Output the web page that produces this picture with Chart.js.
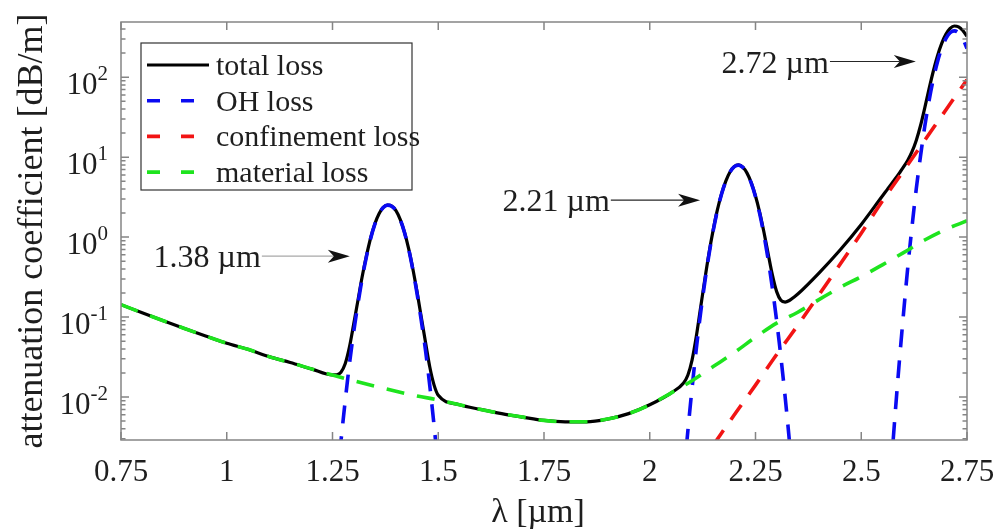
<!DOCTYPE html>
<html>
<head>
<meta charset="utf-8">
<script src="https://cdn.jsdelivr.net/npm/chart.js@4.4.1/dist/chart.umd.min.js"></script>
<style>
  html, body { margin: 0; padding: 0; background: #fff; }
  #lossChart { display: block; }
</style>
</head>
<body>
<canvas id="lossChart" width="998" height="531"></canvas>
<script>
// wavelength [um] and attenuation [dB/m]
const totalLambda = [
  0.75, 0.80, 0.85, 0.90, 0.95, 1.00, 1.05, 1.10, 1.15, 1.20, 1.25,
  1.26, 1.27, 1.28, 1.29, 1.30, 1.31, 1.32, 1.33, 1.34, 1.35, 1.36, 1.37, 1.38,
  1.39, 1.40, 1.41, 1.42, 1.43, 1.44, 1.45, 1.46, 1.47, 1.48, 1.49, 1.50,
  1.55, 1.60, 1.65, 1.70, 1.75, 1.80, 1.85, 1.90, 1.95, 2.00, 2.05,
  2.08, 2.09, 2.10, 2.11, 2.12, 2.13, 2.14, 2.15, 2.16, 2.17, 2.18, 2.19, 2.20,
  2.21, 2.22, 2.23, 2.24, 2.25, 2.26, 2.27, 2.28, 2.29, 2.30, 2.31, 2.32, 2.33,
  2.34, 2.35, 2.40, 2.45, 2.50, 2.55,
  2.56, 2.57, 2.58, 2.59, 2.60, 2.61, 2.62, 2.63, 2.64, 2.65, 2.66, 2.67, 2.68,
  2.69, 2.70, 2.71, 2.72, 2.73, 2.74, 2.75
];
const totalLoss = [
  0.143, 0.113, 0.090, 0.072, 0.058, 0.047, 0.0395, 0.032, 0.027, 0.0225, 0.0189,
  0.0190, 0.0204, 0.026, 0.042, 0.081, 0.160, 0.317, 0.576, 0.968, 1.46, 1.96, 2.35, 2.52,
  2.44, 2.15, 1.67, 1.16, 0.718, 0.399, 0.205, 0.099, 0.048, 0.0237, 0.0142, 0.0105,
  0.0080, 0.0070, 0.0062, 0.0056, 0.0051, 0.0049, 0.0049, 0.0053, 0.0062, 0.0080, 0.0112,
  0.0150, 0.0187, 0.029, 0.057, 0.129, 0.29, 0.627, 1.23, 2.20, 3.52, 5.05, 6.57, 7.64,
  7.99, 7.50, 6.31, 4.78, 3.27, 2.03, 1.15, 0.615, 0.334, 0.208, 0.162, 0.154, 0.161,
  0.176, 0.194, 0.355, 0.69, 1.44, 3.27,
  3.84, 4.51, 5.32, 6.31, 7.53, 9.17, 11.7, 16.2, 24.7, 41.1, 70.2, 117, 183,
  263, 343, 407, 437, 426, 383, 324
];

// OH absorption peaks, null breaks the line between them
const ohLambda = [
  1.26, 1.27, 1.28, 1.29, 1.30, 1.31, 1.32, 1.33, 1.34, 1.35, 1.36, 1.37, 1.38,
  1.39, 1.40, 1.41, 1.42, 1.43, 1.44, 1.45, 1.46, 1.47, 1.48, 1.49, 1.50,
  1.80,
  2.08, 2.09, 2.10, 2.11, 2.12, 2.13, 2.14, 2.15, 2.16, 2.17, 2.18, 2.19, 2.20,
  2.21, 2.22, 2.23, 2.24, 2.25, 2.26, 2.27, 2.28, 2.29, 2.30, 2.31, 2.32, 2.33, 2.34,
  2.45,
  2.56, 2.57, 2.58, 2.59, 2.60, 2.61, 2.62, 2.63, 2.64, 2.65, 2.66, 2.67, 2.68,
  2.69, 2.70, 2.71, 2.72, 2.73, 2.74, 2.75
];
const ohLoss = [
  0.00079, 0.0028, 0.0089, 0.0257, 0.0646, 0.1445, 0.302, 0.562, 0.955, 1.445, 1.95, 2.34, 2.51,
  2.43, 2.14, 1.66, 1.15, 0.708, 0.389, 0.195, 0.089, 0.038, 0.0138, 0.00447, 0.00126,
  null,
  0.00098, 0.00372, 0.0129, 0.0398, 0.110, 0.269, 0.603, 1.20, 2.17, 3.49, 5.01, 6.53, 7.60,
  7.94, 7.45, 6.25, 4.72, 3.20, 1.95, 1.06, 0.519, 0.228, 0.090, 0.0318, 0.0101, 0.00288, 0.00074,
  null,
  0.0002, 0.00117, 0.006, 0.0275, 0.112, 0.417, 1.35, 3.98, 10.2, 24.0, 49.9, 92.8, 154,
  229, 303, 359, 380, 359, 303, 229
];

const confinementLambda = [2.15, 2.20, 2.25, 2.30, 2.35, 2.40, 2.45, 2.50, 2.55, 2.60, 2.65, 2.70, 2.75];
const confinementLoss = [0.0025, 0.0060, 0.0141, 0.034, 0.079, 0.19, 0.457, 1.12, 2.82, 6.76, 16.2, 38.9, 93];

const materialLambda = [
  0.75, 0.80, 0.85, 0.90, 0.95, 1.00, 1.05, 1.10, 1.15, 1.20, 1.25, 1.30, 1.35, 1.40,
  1.45, 1.50, 1.55, 1.60, 1.65, 1.70, 1.75, 1.80, 1.85, 1.90, 1.95, 2.00, 2.05, 2.10,
  2.15, 2.20, 2.25, 2.30, 2.35, 2.40, 2.45, 2.50, 2.55, 2.60, 2.65, 2.70, 2.75
];
const materialLoss = [
  0.143, 0.113, 0.090, 0.072, 0.058, 0.047, 0.0395, 0.032, 0.027, 0.0225, 0.0188, 0.0160, 0.0137, 0.0118,
  0.0103, 0.0092, 0.0080, 0.0070, 0.0062, 0.0056, 0.0051, 0.0049, 0.0049, 0.0053, 0.0062, 0.0080, 0.0112, 0.0160,
  0.024, 0.036, 0.056, 0.084, 0.115, 0.165, 0.235, 0.32, 0.45, 0.64, 0.92, 1.25, 1.6
];

const seriesNames = ['total loss', 'OH loss', 'confinement loss', 'material loss'];

const xTickValues = [0.75, 1, 1.25, 1.5, 1.75, 2, 2.25, 2.5, 2.75];
const xTickLabels = ['0.75', '1', '1.25', '1.5', '1.75', '2', '2.25', '2.5', '2.75'];
const yTickValues = [0.01, 0.1, 1, 10, 100];
const yTickExponents = ['-2', '-1', '0', '1', '2'];

// peak annotations: label, arrow tail and arrow tip in data units
const peakLabels = ['1.38 µm', '2.21 µm', '2.72 µm'];
const peakArrowFrom = [[1.083, 0.578], [1.908, 2.9], [2.426, 157]];
const peakArrowTo = [[1.291, 0.578], [2.119, 2.9], [2.629, 157]];

const SERIF = '"Liberation Serif", "Times New Roman", serif';
const DASH = [18, 13];

const toPoints = (xs, ys) => xs.map((x, i) => ({ x, y: ys[i] }));

// box, inward ticks, labels, legend and arrows, all placed through the chart's scales
const axesDecor = {
  id: 'axesDecor',
  afterDatasetsDraw(chart) {
    const { ctx, chartArea: a, scales: { x, y } } = chart;
    ctx.save();

    ctx.strokeStyle = '#858585';
    ctx.lineWidth = 1.5;
    ctx.strokeRect(a.left, a.top, a.right - a.left, a.bottom - a.top);

    ctx.beginPath();
    x.ticks.forEach(t => {
      const px = x.getPixelForValue(t.value);
      ctx.moveTo(px, a.bottom); ctx.lineTo(px, a.bottom - 8);
      ctx.moveTo(px, a.top); ctx.lineTo(px, a.top + 8);
    });
    y.ticks.forEach(t => {
      const py = y.getPixelForValue(t.value);
      const len = t.major ? 8 : 4.5;
      ctx.moveTo(a.left, py); ctx.lineTo(a.left + len, py);
      ctx.moveTo(a.right, py); ctx.lineTo(a.right - len, py);
    });
    ctx.stroke();

    // tick labels
    ctx.fillStyle = '#1e1e1e';
    ctx.font = '31px ' + SERIF;
    ctx.textAlign = 'center';
    ctx.textBaseline = 'alphabetic';
    xTickValues.forEach((v, i) => {
      ctx.fillText(xTickLabels[i], x.getPixelForValue(v), a.bottom + 41);
    });
    yTickValues.forEach((v, i) => {
      const py = y.getPixelForValue(v);
      const right = a.left - 13;
      ctx.textAlign = 'right';
      ctx.font = '21px ' + SERIF;
      const expW = ctx.measureText(yTickExponents[i]).width;
      ctx.fillText(yTickExponents[i], right, py + 3);
      ctx.font = '31px ' + SERIF;
      ctx.fillText('10', right - expW, py + 17);
    });

    // axis titles
    ctx.font = '34px ' + SERIF;
    ctx.textAlign = 'center';
    ctx.fillText('λ [µm]', (a.left + a.right) / 2 - 6, 522);
    ctx.save();
    ctx.translate(42, (a.top + a.bottom) / 2);
    ctx.rotate(-Math.PI / 2);
    ctx.font = '36px ' + SERIF;
    ctx.fillText('attenuation coefficient [dB/m]', 0, 0);
    ctx.restore();

    // legend
    const lx = a.left + 20, ly = a.top + 21, lw = 271, lh = 147;
    ctx.fillStyle = '#fff';
    ctx.fillRect(lx, ly, lw, lh);
    ctx.strokeStyle = '#333';
    ctx.lineWidth = 1.2;
    ctx.strokeRect(lx, ly, lw, lh);
    ctx.font = '30px ' + SERIF;
    ctx.textAlign = 'left';
    seriesNames.forEach((name, i) => {
      const ds = chart.data.datasets.find(d => d.label === name);
      const ry = ly + 22 + i * 35.7;
      ctx.beginPath();
      ctx.setLineDash(ds.borderDash ? [13, 21] : []);
      ctx.strokeStyle = ds.borderColor;
      ctx.lineWidth = ds.borderWidth;
      ctx.moveTo(lx + 6, ry);
      ctx.lineTo(lx + 68, ry);
      ctx.stroke();
      ctx.setLineDash([]);
      ctx.fillStyle = '#1e1e1e';
      ctx.fillText(name, lx + 75, ry + 10);
    });

    // peak arrows
    peakLabels.forEach((label, i) => {
      const x0 = x.getPixelForValue(peakArrowFrom[i][0]);
      const y0 = y.getPixelForValue(peakArrowFrom[i][1]);
      const x1 = x.getPixelForValue(peakArrowTo[i][0]);
      const y1 = y.getPixelForValue(peakArrowTo[i][1]);
      ctx.beginPath();
      ctx.strokeStyle = i === 0 ? '#a8a8a8' : '#262626';
      ctx.lineWidth = 1.2;
      ctx.moveTo(x0, y0);
      ctx.lineTo(x1 - 16, y1);
      ctx.stroke();
      ctx.beginPath();
      ctx.fillStyle = '#111';
      ctx.moveTo(x1, y1);
      ctx.lineTo(x1 - 22, y1 - 6.5);
      ctx.lineTo(x1 - 16, y1);
      ctx.lineTo(x1 - 22, y1 + 6.5);
      ctx.closePath();
      ctx.fill();
      ctx.fillStyle = '#1e1e1e';
      ctx.font = '32px ' + SERIF;
      ctx.textAlign = 'right';
      ctx.fillText(label, x0 - 1, y0 + 11);
    });

    ctx.restore();
  }
};

function buildChart() {
  const ctx = document.getElementById('lossChart').getContext('2d');
  new Chart(ctx, {
    type: 'line',
    data: {
      datasets: [
        {
          label: 'total loss',
          data: toPoints(totalLambda, totalLoss),
          borderColor: '#000000',
          borderWidth: 3.2,
          order: 3
        },
        {
          label: 'OH loss',
          data: toPoints(ohLambda, ohLoss),
          borderColor: '#0a0af2',
          borderWidth: 3.6,
          borderDash: DASH,
          order: 2
        },
        {
          label: 'confinement loss',
          data: toPoints(confinementLambda, confinementLoss),
          borderColor: '#f21414',
          borderWidth: 3.6,
          borderDash: DASH,
          order: 1
        },
        {
          label: 'material loss',
          data: toPoints(materialLambda, materialLoss),
          borderColor: '#1ee41e',
          borderWidth: 3.6,
          borderDash: DASH,
          order: 0
        }
      ]
    },
    options: {
      responsive: false,
      animation: false,
      layout: { padding: { left: 0, right: 31, top: 22, bottom: 0 } },
      elements: {
        point: { radius: 0 },
        line: { cubicInterpolationMode: 'monotone', fill: false }
      },
      datasets: { line: { spanGaps: false, clip: 0 } },
      plugins: { legend: { display: false }, tooltip: { enabled: false } },
      scales: {
        x: {
          type: 'linear',
          min: 0.75,
          max: 2.75,
          grid: { display: false },
          border: { display: false },
          ticks: { display: false },
          afterBuildTicks: scale => {
            scale.ticks = xTickValues.map(v => ({ value: v }));
          },
          afterFit: scale => { scale.height = 91; }
        },
        y: {
          type: 'logarithmic',
          min: 0.0029,
          max: 490,
          grid: { display: false },
          border: { display: false },
          ticks: { display: false },
          afterBuildTicks: scale => {
            // decades plus the 2..9 minor marks inside the range
            const ticks = [];
            for (let d = 0.001; d <= 100; d *= 10) {
              for (let m = 1; m <= 9; m++) {
                const v = +(m * d).toPrecision(3);
                if (v >= scale.min && v <= scale.max) ticks.push({ value: v, major: m === 1 });
              }
            }
            scale.ticks = ticks;
          },
          afterFit: scale => { scale.width = 121; }
        }
      }
    },
    plugins: [axesDecor]
  });
}

if (document.fonts && document.fonts.load) {
  document.fonts.load('31px "Liberation Serif"').then(buildChart, buildChart);
} else {
  buildChart();
}
</script>
</body>
</html>
